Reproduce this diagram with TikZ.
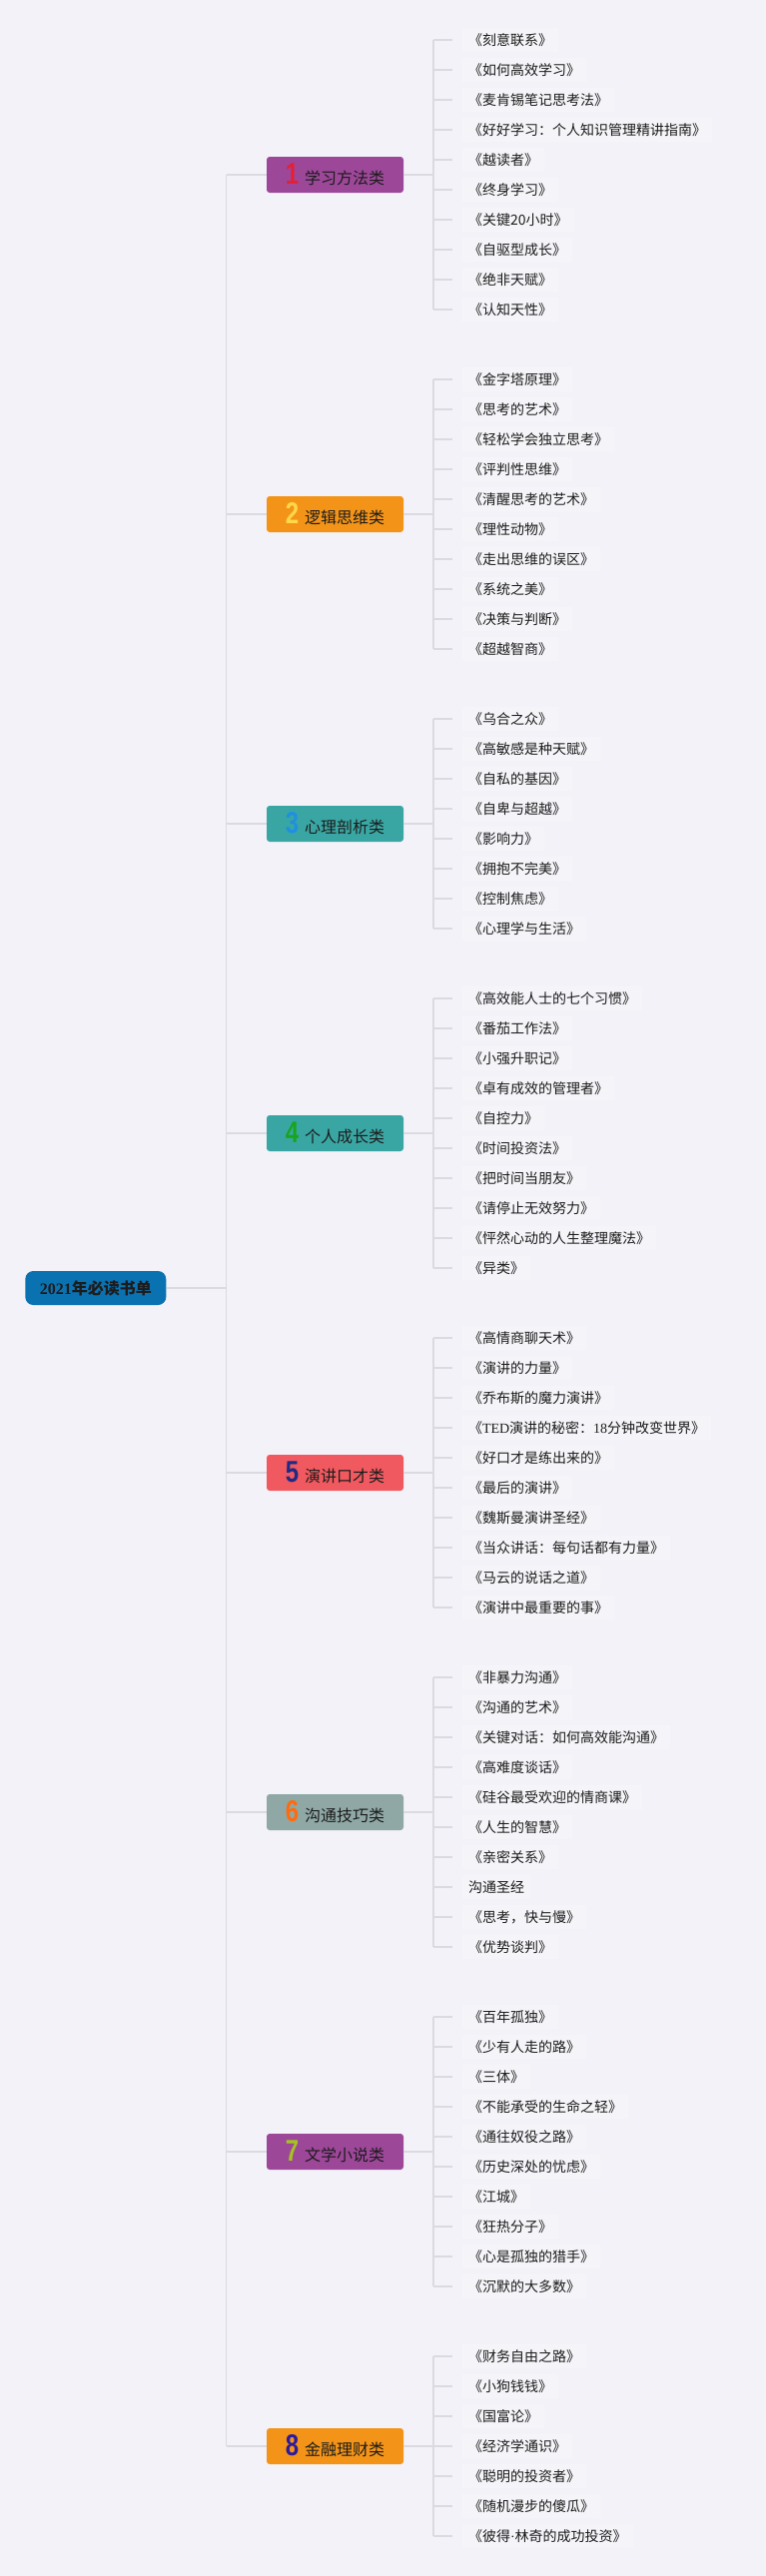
\documentclass[tikz,border=0pt]{standalone}
\usepackage{fontspec}
\setmainfont{Noto Sans CJK SC}
\newfontfamily\numfont{Liberation Sans Bold}[FakeStretch=0.8]
\newfontfamily\latinserif{Liberation Serif}
\usetikzlibrary{positioning}

\definecolor{paper}{HTML}{F3F2F8}
\definecolor{wire}{HTML}{DADAE0}
\definecolor{rootblue}{HTML}{0B72B2}
\definecolor{plum}{HTML}{9D4799}
\definecolor{amber}{HTML}{F39418}
\definecolor{teal}{HTML}{3AA6A3}
\definecolor{coral}{HTML}{F0595F}
\definecolor{sage}{HTML}{8FA8A5}
\definecolor{bookfill}{HTML}{F5F5F9}
\definecolor{ink}{HTML}{1C1C1C}
\definecolor{numA}{HTML}{E3203A}
\definecolor{numB}{HTML}{FFD84A}
\definecolor{numC}{HTML}{1F8FE3}
\definecolor{numD}{HTML}{17A51F}
\definecolor{numE}{HTML}{1F2A86}
\definecolor{numF}{HTML}{FF6B0E}
\definecolor{numG}{HTML}{A3C51F}
\definecolor{numH}{HTML}{2B1A9E}

\newcommand{\catnum}[2]{{\numfont\fontsize{30}{30}\selectfont\color{#1}#2}\hspace{6pt}}

\tikzstyle{root}=[fill=rootblue, rounded corners=8pt, minimum width=141pt, minimum height=34pt, inner sep=0, text=ink, font=\fontsize{16}{16}\selectfont\bfseries]
\tikzstyle{category}=[rounded corners=3pt, minimum width=137pt, minimum height=36pt, inner sep=0, text=ink, font=\fontsize{16}{16}\selectfont]
\tikzstyle{book}=[anchor=west, fill=bookfill, inner xsep=6pt, outer xsep=10pt, minimum height=24pt, text=ink, font=\fontsize{14}{14}\selectfont]
\tikzstyle{branch}=[draw=wire, line width=1.6pt]

\begin{document}
\begin{tikzpicture}[x=1pt, y=-1pt]
  \fill[paper] (0,0) rectangle (767,2580);
  \useasboundingbox (0,0) rectangle (767,2580);

  \coordinate (trunk) at (226.5, 0);
  \coordinate (brx) at (434, 0);

  \node[root] (root) at (95.8, 1290) {{\latinserif 2021}年必读书单};

  % categories
  \node[category, fill=plum] (cat1) at (335.5, 175) {\catnum{numA}{1}学习方法类};
  \node[category, fill=amber] (cat2) at (335.5, 515) {\catnum{numB}{2}逻辑思维类};
  \node[category, fill=teal] (cat3) at (335.5, 825) {\catnum{numC}{3}心理剖析类};
  \node[category, fill=teal] (cat4) at (335.5, 1135) {\catnum{numD}{4}个人成长类};
  \node[category, fill=coral] (cat5) at (335.5, 1475) {\catnum{numE}{5}演讲口才类};
  \node[category, fill=sage] (cat6) at (335.5, 1815) {\catnum{numF}{6}沟通技巧类};
  \node[category, fill=plum] (cat7) at (335.5, 2155) {\catnum{numG}{7}文学小说类};
  \node[category, fill=amber] (cat8) at (335.5, 2450) {\catnum{numH}{8}金融理财类};

  % books
  \foreach \b [count=\j] in {《刻意联系》, 《如何高效学习》, 《麦肯锡笔记思考法》,
      《好好学习：个人知识管理精讲指南》, 《越读者》, 《终身学习》, 《关键20小时》,
      《自驱型成长》, 《绝非天赋》, 《认知天性》}
    \node[book] (b1-\j) at (453, 10+30*\j) {\b};
  \foreach \b [count=\j] in {《金字塔原理》, 《思考的艺术》, 《轻松学会独立思考》,
      《评判性思维》, 《清醒思考的艺术》, 《理性动物》, 《走出思维的误区》,
      《系统之美》, 《决策与判断》, 《超越智商》}
    \node[book] (b2-\j) at (453, 350+30*\j) {\b};
  \foreach \b [count=\j] in {《乌合之众》, 《高敏感是种天赋》, 《自私的基因》,
      《自卑与超越》, 《影响力》, 《拥抱不完美》, 《控制焦虑》, 《心理学与生活》}
    \node[book] (b3-\j) at (453, 690+30*\j) {\b};
  \foreach \b [count=\j] in {《高效能人士的七个习惯》, 《番茄工作法》, 《小强升职记》,
      《卓有成效的管理者》, 《自控力》, 《时间投资法》, 《把时间当朋友》,
      《请停止无效努力》, 《怦然心动的人生整理魔法》, 《异类》}
    \node[book] (b4-\j) at (453, 970+30*\j) {\b};
  \foreach \b [count=\j] in {《高情商聊天术》, 《演讲的力量》, 《乔布斯的魔力演讲》,
      《{\latinserif TED}演讲的秘密：{\latinserif 18}分钟改变世界》, 《好口才是练出来的》,
      《最后的演讲》, 《魏斯曼演讲圣经》, 《当众讲话：每句话都有力量》,
      《马云的说话之道》, 《演讲中最重要的事》}
    \node[book] (b5-\j) at (453, 1310+30*\j) {\b};
  \foreach \b [count=\j] in {《非暴力沟通》, 《沟通的艺术》, 《关键对话：如何高效能沟通》,
      《高难度谈话》, 《硅谷最受欢迎的情商课》, 《人生的智慧》, 《亲密关系》,
      沟通圣经, 《思考，快与慢》, 《优势谈判》}
    \node[book] (b6-\j) at (453, 1650+30*\j) {\b};
  \foreach \b [count=\j] in {《百年孤独》, 《少有人走的路》, 《三体》, 《不能承受的生命之轻》,
      《通往奴役之路》, 《历史深处的忧虑》, 《江城》, 《狂热分子》,
      《心是孤独的猎手》, 《沉默的大多数》}
    \node[book] (b7-\j) at (453, 1990+30*\j) {\b};
  \foreach \b [count=\j] in {《财务自由之路》, 《小狗钱钱》, 《国富论》, 《经济学通识》,
      《聪明的投资者》, 《随机漫步的傻瓜》, 《彼得{\latinserif ·}林奇的成功投资》}
    \node[book] (b8-\j) at (453, 2330+30*\j) {\b};

  % connectors
  \draw[branch] (root.east) -- (root.east -| trunk);
  \draw[branch] (cat1.west -| trunk) -- (cat8.west -| trunk);
  \foreach \g/\n in {1/10, 2/10, 3/8, 4/10, 5/10, 6/10, 7/10, 8/7} {
    \draw[branch] (cat\g.west -| trunk) -- (cat\g.west);
    \draw[branch] (cat\g.east) -- (cat\g.east -| brx);
    \draw[branch] (b\g-1.west -| brx) -- (b\g-\n.west -| brx);
    \foreach \j in {1,...,\n}
      \draw[branch] (b\g-\j.west -| brx) -- (b\g-\j.west);
  }
\end{tikzpicture}
\end{document}
